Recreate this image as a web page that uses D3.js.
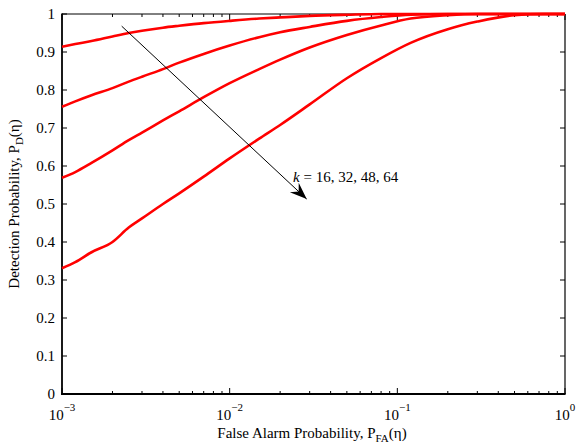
<!DOCTYPE html>
<html>
<head>
<meta charset="utf-8">
<script src="https://cdn.jsdelivr.net/npm/d3@7"></script>
<style>
  body { margin: 0; background: #fff; }
</style>
</head>
<body>
<svg id="chart" width="577" height="447" font-family="'Liberation Serif', 'Times New Roman', serif"></svg>
<script>
// false alarm probability grid (shared by all curves)
var pfa = [0.001, 0.0012, 0.0015, 0.002, 0.0025, 0.003, 0.004, 0.005, 0.007, 0.01,
           0.015, 0.02, 0.03, 0.05, 0.08, 0.12, 0.2, 0.3, 0.5, 0.75, 1];

// detection probability for each k
var pdK16 = [0.914, 0.921, 0.929, 0.941, 0.950, 0.956, 0.964, 0.969, 0.976, 0.982,
             0.988, 0.991, 0.995, 0.998, 1.0, 1.0, 1.0, 1.0, 1.0, 1.0, 1.0];
var pdK32 = [0.756, 0.770, 0.786, 0.805, 0.822, 0.835, 0.855, 0.872, 0.895, 0.917,
             0.939, 0.952, 0.966, 0.982, 0.992, 0.998, 1.0, 1.0, 1.0, 1.0, 1.0];
var pdK48 = [0.569, 0.584, 0.608, 0.641, 0.668, 0.688, 0.720, 0.744, 0.781, 0.818,
             0.855, 0.880, 0.912, 0.945, 0.970, 0.988, 0.997, 1.0, 1.0, 1.0, 1.0];
var pdK64 = [0.331, 0.347, 0.373, 0.400, 0.438, 0.462, 0.500, 0.528, 0.572, 0.620,
             0.672, 0.708, 0.762, 0.831, 0.884, 0.924, 0.960, 0.980, 0.997, 1.0, 1.0];

var series = [pdK16, pdK32, pdK48, pdK64];

var yTicks = [0, 0.1, 0.2, 0.3, 0.4, 0.5, 0.6, 0.7, 0.8, 0.9, 1];
var xTicks = [1e-3, 1e-2, 1e-1, 1];
var xTickExp = ["\u22123", "\u22122", "\u22121", "0"];

// annotation arrow, in data coordinates
var arrowFrom = [0.00227, 0.968];
var arrowTo = [0.0288, 0.513];
var arrowLabel = " = 16, 32, 48, 64";

//-------------------------------------------------------------------------------

var svg = d3.select("#chart");
var L = 62, R = 565, T = 14, B = 394;

var x = d3.scaleLog().domain([1e-3, 1]).range([L, R]);
var y = d3.scaleLinear().domain([0, 1]).range([B, T]);

// minor ticks 2..9 in each decade
var minor = [];
[1e-3, 1e-2, 1e-1].forEach(function (d) {
    for (var m = 2; m <= 9; m++) minor.push(d * m);
});

var gAx = svg.append("g");

// ticks, inward, on all four sides
gAx.append("g").selectAll("line").data(yTicks).join("line")
    .attr("x1", L).attr("x2", L + 5)
    .attr("y1", d => y(d)).attr("y2", d => y(d))
    .attr("stroke", "#000").attr("stroke-width", 1);
gAx.append("g").selectAll("line").data(yTicks).join("line")
    .attr("x1", R).attr("x2", R - 5)
    .attr("y1", d => y(d)).attr("y2", d => y(d))
    .attr("stroke", "#000").attr("stroke-width", 1);

function xTickLines(data, len) {
    gAx.append("g").selectAll("line").data(data).join("line")
        .attr("x1", d => x(d)).attr("x2", d => x(d))
        .attr("y1", B).attr("y2", B - len)
        .attr("stroke", "#000").attr("stroke-width", 1);
    gAx.append("g").selectAll("line").data(data).join("line")
        .attr("x1", d => x(d)).attr("x2", d => x(d))
        .attr("y1", T).attr("y2", T + len)
        .attr("stroke", "#000").attr("stroke-width", 1);
}
xTickLines(xTicks, 6);
xTickLines(minor, 3);

// box
gAx.append("line").attr("x1", L).attr("x2", R).attr("y1", T).attr("y2", T)
    .attr("stroke", "#000").attr("stroke-width", 1);
gAx.append("line").attr("x1", R).attr("x2", R).attr("y1", T).attr("y2", B)
    .attr("stroke", "#000").attr("stroke-width", 1.2);
gAx.append("line").attr("x1", L).attr("x2", L).attr("y1", T - 0.5).attr("y2", B + 1)
    .attr("stroke", "#000").attr("stroke-width", 1.8);
gAx.append("line").attr("x1", L - 0.9).attr("x2", R + 0.6).attr("y1", B).attr("y2", B)
    .attr("stroke", "#000").attr("stroke-width", 1.8);

// y tick labels
gAx.append("g").selectAll("text").data(yTicks).join("text")
    .attr("x", L - 7).attr("y", d => y(d) + 5)
    .attr("text-anchor", "end").attr("font-size", 15)
    .text(d => d3.format("")(d));

// x tick labels, 10 with superscript exponent
var xl = gAx.append("g").selectAll("text").data(xTicks).join("text")
    .attr("x", d => x(d)).attr("y", B + 26)
    .attr("text-anchor", "middle").attr("font-size", 15);
xl.append("tspan").text("10");
xl.append("tspan").attr("dy", -9).attr("font-size", 11).text((d, i) => xTickExp[i]);

// axis titles
var xt = svg.append("text").attr("x", 312).attr("y", 438)
    .attr("text-anchor", "middle").attr("font-size", 15);
xt.append("tspan").text("False Alarm Probability, P");
xt.append("tspan").attr("dy", 4).attr("font-size", 11).text("FA");
xt.append("tspan").attr("dy", -4).text("(\u03b7)");

var yt = svg.append("text")
    .attr("transform", "translate(19," + ((T + B) / 2) + ") rotate(-90)")
    .attr("text-anchor", "middle").attr("font-size", 15);
yt.append("tspan").text("Detection Probability, P");
yt.append("tspan").attr("dy", 4).attr("font-size", 11).text("D");
yt.append("tspan").attr("dy", -4).text("(\u03b7)");

// curves
var line = d3.line()
    .x((d, i) => x(pfa[i]))
    .y(d => y(d))
    .curve(d3.curveMonotoneX);

svg.append("g").selectAll("path").data(series).join("path")
    .attr("d", line)
    .attr("fill", "none")
    .attr("stroke", "#ff0000")
    .attr("stroke-width", 2.6)
    .attr("stroke-linejoin", "round");

// arrow + label
svg.append("defs").append("marker")
    .attr("id", "head").attr("markerUnits", "userSpaceOnUse")
    .attr("viewBox", "-17 -8 18 16").attr("refX", 0).attr("refY", 0)
    .attr("markerWidth", 18).attr("markerHeight", 16).attr("orient", "auto")
    .append("path").attr("d", "M0,0 L-17,-6.5 L-11,0 L-17,6.5 Z").attr("fill", "#000");

svg.append("line")
    .attr("x1", x(arrowFrom[0])).attr("y1", y(arrowFrom[1]))
    .attr("x2", x(arrowTo[0])).attr("y2", y(arrowTo[1]))
    .attr("stroke", "#000").attr("stroke-width", 1)
    .attr("marker-end", "url(#head)");

var lab = svg.append("text").attr("x", 293).attr("y", 182).attr("font-size", 15);
lab.append("tspan").attr("font-style", "italic").text("k");
lab.append("tspan").text(arrowLabel);
</script>
</body>
</html>
